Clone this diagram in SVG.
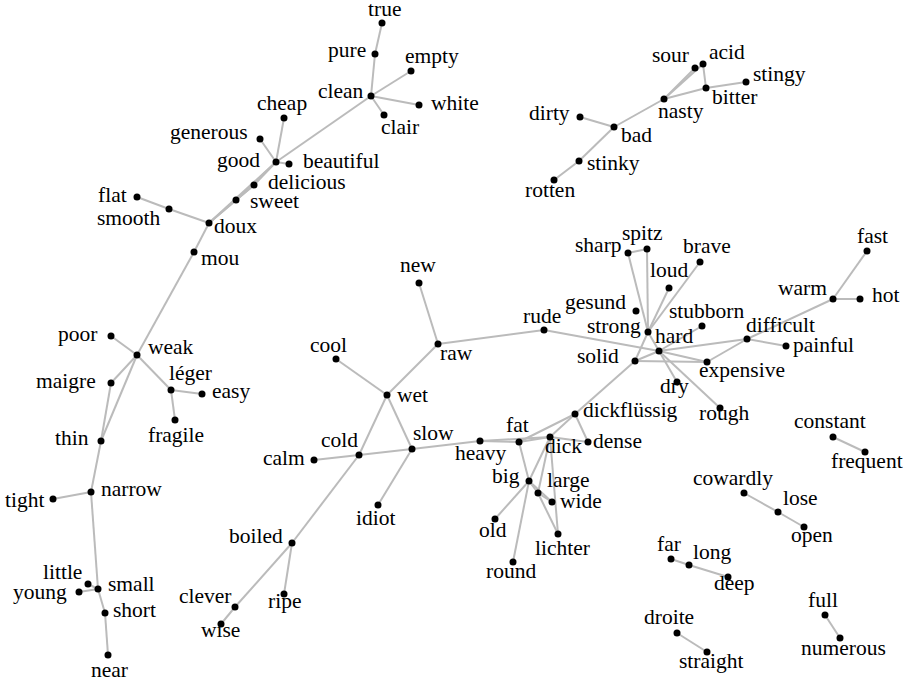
<svg xmlns="http://www.w3.org/2000/svg" width="916" height="688" viewBox="0 0 916 688">
<style>
.e line{stroke:#bbbbbb;stroke-width:2;fill:none}
.n circle{fill:#000}
.n text{font-family:'Liberation Serif','Times New Roman','DejaVu Serif',serif;font-size:21.5px;fill:#000}
</style>
<rect width="916" height="688" fill="#fff"/>
<g class="e" id="edges">
<line x1="382" y1="23" x2="375" y2="54"/>
<line x1="375" y1="54" x2="371" y2="96"/>
<line x1="371" y1="96" x2="411" y2="71"/>
<line x1="371" y1="96" x2="419" y2="105"/>
<line x1="371" y1="96" x2="384" y2="115"/>
<line x1="371" y1="96" x2="276" y2="162"/>
<line x1="276" y1="162" x2="284" y2="118"/>
<line x1="276" y1="162" x2="260" y2="139"/>
<line x1="276" y1="162" x2="289" y2="164"/>
<line x1="276" y1="162" x2="254" y2="185"/>
<line x1="276" y1="162" x2="236" y2="200"/>
<line x1="276" y1="162" x2="209" y2="223"/>
<line x1="254" y1="185" x2="236" y2="200"/>
<line x1="236" y1="200" x2="209" y2="223"/>
<line x1="254" y1="185" x2="209" y2="223"/>
<line x1="137" y1="197" x2="169" y2="209"/>
<line x1="169" y1="209" x2="209" y2="223"/>
<line x1="209" y1="223" x2="194" y2="252"/>
<line x1="194" y1="252" x2="137" y2="355"/>
<line x1="137" y1="355" x2="111" y2="336"/>
<line x1="137" y1="355" x2="111" y2="383"/>
<line x1="137" y1="355" x2="101" y2="441"/>
<line x1="137" y1="355" x2="171" y2="390"/>
<line x1="171" y1="390" x2="202" y2="394"/>
<line x1="171" y1="390" x2="175" y2="420"/>
<line x1="111" y1="383" x2="101" y2="441"/>
<line x1="101" y1="441" x2="91" y2="492"/>
<line x1="91" y1="492" x2="53" y2="499"/>
<line x1="91" y1="492" x2="98" y2="589"/>
<line x1="98" y1="589" x2="79" y2="592"/>
<line x1="98" y1="589" x2="88" y2="584"/>
<line x1="98" y1="589" x2="105" y2="613"/>
<line x1="105" y1="613" x2="108" y2="655"/>
<line x1="419" y1="283" x2="438" y2="344"/>
<line x1="438" y1="344" x2="544" y2="330"/>
<line x1="438" y1="344" x2="387" y2="395"/>
<line x1="336" y1="359" x2="387" y2="395"/>
<line x1="387" y1="395" x2="359" y2="455"/>
<line x1="387" y1="395" x2="412" y2="449"/>
<line x1="359" y1="455" x2="314" y2="460"/>
<line x1="359" y1="455" x2="412" y2="449"/>
<line x1="359" y1="455" x2="292" y2="543"/>
<line x1="412" y1="449" x2="378" y2="505"/>
<line x1="412" y1="449" x2="480" y2="441"/>
<line x1="292" y1="543" x2="284" y2="594"/>
<line x1="292" y1="543" x2="235" y2="607"/>
<line x1="235" y1="607" x2="221" y2="624"/>
<line x1="480" y1="441" x2="519" y2="442"/>
<line x1="480" y1="441" x2="550" y2="437"/>
<line x1="519" y1="442" x2="550" y2="437"/>
<line x1="519" y1="442" x2="575" y2="414"/>
<line x1="550" y1="437" x2="575" y2="414"/>
<line x1="575" y1="414" x2="588" y2="442"/>
<line x1="550" y1="437" x2="588" y2="442"/>
<line x1="519" y1="442" x2="529" y2="481"/>
<line x1="550" y1="437" x2="529" y2="481"/>
<line x1="550" y1="437" x2="558" y2="534"/>
<line x1="550" y1="437" x2="538" y2="493"/>
<line x1="529" y1="481" x2="538" y2="493"/>
<line x1="529" y1="481" x2="552" y2="502"/>
<line x1="538" y1="493" x2="552" y2="502"/>
<line x1="538" y1="493" x2="558" y2="534"/>
<line x1="529" y1="481" x2="495" y2="519"/>
<line x1="529" y1="481" x2="513" y2="562"/>
<line x1="575" y1="414" x2="635" y2="361"/>
<line x1="635" y1="361" x2="659" y2="351"/>
<line x1="635" y1="361" x2="707" y2="362"/>
<line x1="635" y1="361" x2="648" y2="332"/>
<line x1="544" y1="330" x2="659" y2="351"/>
<line x1="648" y1="332" x2="659" y2="351"/>
<line x1="648" y1="332" x2="628" y2="253"/>
<line x1="648" y1="332" x2="647" y2="249"/>
<line x1="628" y1="253" x2="647" y2="249"/>
<line x1="648" y1="332" x2="669" y2="288"/>
<line x1="648" y1="332" x2="700" y2="262"/>
<line x1="659" y1="351" x2="702" y2="326"/>
<line x1="659" y1="351" x2="747" y2="339"/>
<line x1="659" y1="351" x2="707" y2="362"/>
<line x1="659" y1="351" x2="677" y2="382"/>
<line x1="659" y1="351" x2="720" y2="408"/>
<line x1="747" y1="339" x2="707" y2="362"/>
<line x1="747" y1="339" x2="786" y2="346"/>
<line x1="747" y1="339" x2="833" y2="299"/>
<line x1="833" y1="299" x2="860" y2="299"/>
<line x1="833" y1="299" x2="867" y2="251"/>
<line x1="833" y1="437" x2="865" y2="452"/>
<line x1="744" y1="493" x2="778" y2="512"/>
<line x1="778" y1="512" x2="804" y2="527"/>
<line x1="671" y1="559" x2="689" y2="565"/>
<line x1="689" y1="565" x2="728" y2="577"/>
<line x1="825" y1="615" x2="840" y2="638"/>
<line x1="677" y1="633" x2="707" y2="652"/>
<line x1="580" y1="117" x2="614" y2="127"/>
<line x1="614" y1="127" x2="664" y2="99"/>
<line x1="614" y1="127" x2="579" y2="161"/>
<line x1="579" y1="161" x2="554" y2="180"/>
<line x1="664" y1="99" x2="695" y2="68"/>
<line x1="664" y1="99" x2="703" y2="64"/>
<line x1="664" y1="99" x2="706" y2="88"/>
<line x1="703" y1="64" x2="706" y2="88"/>
<line x1="706" y1="88" x2="746" y2="82"/>
</g>
<g id="nodes" font-family="Liberation Serif, Times New Roman, DejaVu Serif, serif" font-size="21.5">
<g class="n" id="n-true"><circle cx="382" cy="23" r="3.5"/><text x="368" y="16">true</text></g>
<g class="n" id="n-pure"><circle cx="375" cy="54" r="3.5"/><text x="328" y="57">pure</text></g>
<g class="n" id="n-empty"><circle cx="411" cy="71" r="3.5"/><text x="405" y="63">empty</text></g>
<g class="n" id="n-clean"><circle cx="371" cy="96" r="3.5"/><text x="318" y="98">clean</text></g>
<g class="n" id="n-white"><circle cx="419" cy="105" r="3.5"/><text x="431" y="110">white</text></g>
<g class="n" id="n-clair"><circle cx="384" cy="115" r="3.5"/><text x="381" y="134">clair</text></g>
<g class="n" id="n-cheap"><circle cx="284" cy="118" r="3.5"/><text x="257" y="110">cheap</text></g>
<g class="n" id="n-generous"><circle cx="260" cy="139" r="3.5"/><text x="170" y="139">generous</text></g>
<g class="n" id="n-good"><circle cx="276" cy="162" r="3.5"/><text x="217" y="167">good</text></g>
<g class="n" id="n-beautiful"><circle cx="289" cy="164" r="3.5"/><text x="303" y="168">beautiful</text></g>
<g class="n" id="n-delicious"><circle cx="254" cy="185" r="3.5"/><text x="268" y="189">delicious</text></g>
<g class="n" id="n-sweet"><circle cx="236" cy="200" r="3.5"/><text x="250" y="208">sweet</text></g>
<g class="n" id="n-flat"><circle cx="137" cy="197" r="3.5"/><text x="98" y="202">flat</text></g>
<g class="n" id="n-smooth"><circle cx="169" cy="209" r="3.5"/><text x="97" y="225">smooth</text></g>
<g class="n" id="n-doux"><circle cx="209" cy="223" r="3.5"/><text x="214" y="233">doux</text></g>
<g class="n" id="n-mou"><circle cx="194" cy="252" r="3.5"/><text x="201" y="265">mou</text></g>
<g class="n" id="n-poor"><circle cx="111" cy="336" r="3.5"/><text x="58" y="341">poor</text></g>
<g class="n" id="n-weak"><circle cx="137" cy="355" r="3.5"/><text x="148" y="354">weak</text></g>
<g class="n" id="n-maigre"><circle cx="111" cy="383" r="3.5"/><text x="36" y="388">maigre</text></g>
<g class="n" id="n-leger"><circle cx="171" cy="390" r="3.5"/><text x="169" y="380">léger</text></g>
<g class="n" id="n-easy"><circle cx="202" cy="394" r="3.5"/><text x="212" y="398">easy</text></g>
<g class="n" id="n-fragile"><circle cx="175" cy="420" r="3.5"/><text x="148" y="442">fragile</text></g>
<g class="n" id="n-thin"><circle cx="101" cy="441" r="3.5"/><text x="55" y="445">thin</text></g>
<g class="n" id="n-narrow"><circle cx="91" cy="492" r="3.5"/><text x="101" y="496">narrow</text></g>
<g class="n" id="n-tight"><circle cx="53" cy="499" r="3.5"/><text x="5" y="507">tight</text></g>
<g class="n" id="n-little"><circle cx="88" cy="584" r="3.5"/><text x="43" y="579">little</text></g>
<g class="n" id="n-young"><circle cx="79" cy="592" r="3.5"/><text x="13" y="599">young</text></g>
<g class="n" id="n-small"><circle cx="98" cy="589" r="3.5"/><text x="108" y="591">small</text></g>
<g class="n" id="n-short"><circle cx="105" cy="613" r="3.5"/><text x="113" y="617">short</text></g>
<g class="n" id="n-near"><circle cx="108" cy="655" r="3.5"/><text x="91" y="677">near</text></g>
<g class="n" id="n-boiled"><circle cx="292" cy="543" r="3.5"/><text x="229" y="543">boiled</text></g>
<g class="n" id="n-clever"><circle cx="235" cy="607" r="3.5"/><text x="179" y="603">clever</text></g>
<g class="n" id="n-ripe"><circle cx="284" cy="594" r="3.5"/><text x="268" y="608">ripe</text></g>
<g class="n" id="n-wise"><circle cx="221" cy="624" r="3.5"/><text x="201" y="637">wise</text></g>
<g class="n" id="n-calm"><circle cx="314" cy="460" r="3.5"/><text x="263" y="465">calm</text></g>
<g class="n" id="n-cold"><circle cx="359" cy="455" r="3.5"/><text x="321" y="447">cold</text></g>
<g class="n" id="n-slow"><circle cx="412" cy="449" r="3.5"/><text x="413" y="440">slow</text></g>
<g class="n" id="n-idiot"><circle cx="378" cy="505" r="3.5"/><text x="356" y="525">idiot</text></g>
<g class="n" id="n-wet"><circle cx="387" cy="395" r="3.5"/><text x="397" y="402">wet</text></g>
<g class="n" id="n-cool"><circle cx="336" cy="359" r="3.5"/><text x="310" y="352">cool</text></g>
<g class="n" id="n-raw"><circle cx="438" cy="344" r="3.5"/><text x="440" y="360">raw</text></g>
<g class="n" id="n-new"><circle cx="419" cy="283" r="3.5"/><text x="400" y="272">new</text></g>
<g class="n" id="n-rude"><circle cx="544" cy="330" r="3.5"/><text x="523" y="323">rude</text></g>
<g class="n" id="n-heavy"><circle cx="480" cy="441" r="3.5"/><text x="455" y="460">heavy</text></g>
<g class="n" id="n-fat"><circle cx="519" cy="442" r="3.5"/><text x="506" y="432">fat</text></g>
<g class="n" id="n-dick"><circle cx="550" cy="437" r="3.5"/><text x="545" y="453">dick</text></g>
<g class="n" id="n-dickfluessig"><circle cx="575" cy="414" r="3.5"/><text x="583" y="417">dickflüssig</text></g>
<g class="n" id="n-dense"><circle cx="588" cy="442" r="3.5"/><text x="593" y="448">dense</text></g>
<g class="n" id="n-big"><circle cx="529" cy="481" r="3.5"/><text x="492" y="483">big</text></g>
<g class="n" id="n-large"><circle cx="538" cy="493" r="3.5"/><text x="547" y="487">large</text></g>
<g class="n" id="n-wide"><circle cx="552" cy="502" r="3.5"/><text x="560" y="508">wide</text></g>
<g class="n" id="n-old"><circle cx="495" cy="519" r="3.5"/><text x="479" y="537">old</text></g>
<g class="n" id="n-lichter"><circle cx="558" cy="534" r="3.5"/><text x="535" y="555">lichter</text></g>
<g class="n" id="n-round"><circle cx="513" cy="562" r="3.5"/><text x="486" y="578">round</text></g>
<g class="n" id="n-solid"><circle cx="635" cy="361" r="3.5"/><text x="577" y="363">solid</text></g>
<g class="n" id="n-hard"><circle cx="659" cy="351" r="3.5"/><text x="655" y="343">hard</text></g>
<g class="n" id="n-strong"><circle cx="648" cy="332" r="3.5"/><text x="587" y="333">strong</text></g>
<g class="n" id="n-gesund"><circle cx="636" cy="311" r="3.5"/><text x="565" y="309">gesund</text></g>
<g class="n" id="n-sharp"><circle cx="628" cy="253" r="3.5"/><text x="575" y="252">sharp</text></g>
<g class="n" id="n-spitz"><circle cx="647" cy="249" r="3.5"/><text x="622" y="240">spitz</text></g>
<g class="n" id="n-loud"><circle cx="669" cy="288" r="3.5"/><text x="650" y="277">loud</text></g>
<g class="n" id="n-brave"><circle cx="700" cy="262" r="3.5"/><text x="683" y="253">brave</text></g>
<g class="n" id="n-stubborn"><circle cx="702" cy="326" r="3.5"/><text x="669" y="318">stubborn</text></g>
<g class="n" id="n-difficult"><circle cx="747" cy="339" r="3.5"/><text x="746" y="332">difficult</text></g>
<g class="n" id="n-painful"><circle cx="786" cy="346" r="3.5"/><text x="793" y="352">painful</text></g>
<g class="n" id="n-expensive"><circle cx="707" cy="362" r="3.5"/><text x="699" y="377">expensive</text></g>
<g class="n" id="n-dry"><circle cx="677" cy="382" r="3.5"/><text x="660" y="393">dry</text></g>
<g class="n" id="n-rough"><circle cx="720" cy="408" r="3.5"/><text x="699" y="420">rough</text></g>
<g class="n" id="n-warm"><circle cx="833" cy="299" r="3.5"/><text x="778" y="295">warm</text></g>
<g class="n" id="n-hot"><circle cx="860" cy="299" r="3.5"/><text x="872" y="302">hot</text></g>
<g class="n" id="n-fast"><circle cx="867" cy="251" r="3.5"/><text x="857" y="243">fast</text></g>
<g class="n" id="n-constant"><circle cx="833" cy="437" r="3.5"/><text x="794" y="428">constant</text></g>
<g class="n" id="n-frequent"><circle cx="865" cy="452" r="3.5"/><text x="831" y="468">frequent</text></g>
<g class="n" id="n-cowardly"><circle cx="744" cy="493" r="3.5"/><text x="693" y="485">cowardly</text></g>
<g class="n" id="n-lose"><circle cx="778" cy="512" r="3.5"/><text x="783" y="505">lose</text></g>
<g class="n" id="n-open"><circle cx="804" cy="527" r="3.5"/><text x="791" y="542">open</text></g>
<g class="n" id="n-far"><circle cx="671" cy="559" r="3.5"/><text x="657" y="551">far</text></g>
<g class="n" id="n-long"><circle cx="689" cy="565" r="3.5"/><text x="693" y="559">long</text></g>
<g class="n" id="n-deep"><circle cx="728" cy="577" r="3.5"/><text x="714" y="590">deep</text></g>
<g class="n" id="n-full"><circle cx="825" cy="615" r="3.5"/><text x="808" y="607">full</text></g>
<g class="n" id="n-numerous"><circle cx="840" cy="638" r="3.5"/><text x="801" y="655">numerous</text></g>
<g class="n" id="n-droite"><circle cx="677" cy="633" r="3.5"/><text x="644" y="624">droite</text></g>
<g class="n" id="n-straight"><circle cx="707" cy="652" r="3.5"/><text x="679" y="668">straight</text></g>
<g class="n" id="n-sour"><circle cx="695" cy="68" r="3.5"/><text x="652" y="62">sour</text></g>
<g class="n" id="n-acid"><circle cx="703" cy="64" r="3.5"/><text x="709" y="59">acid</text></g>
<g class="n" id="n-stingy"><circle cx="746" cy="82" r="3.5"/><text x="753" y="81">stingy</text></g>
<g class="n" id="n-bitter"><circle cx="706" cy="88" r="3.5"/><text x="712" y="104">bitter</text></g>
<g class="n" id="n-nasty"><circle cx="664" cy="99" r="3.5"/><text x="658" y="118">nasty</text></g>
<g class="n" id="n-dirty"><circle cx="580" cy="117" r="3.5"/><text x="529" y="120">dirty</text></g>
<g class="n" id="n-bad"><circle cx="614" cy="127" r="3.5"/><text x="621" y="142">bad</text></g>
<g class="n" id="n-stinky"><circle cx="579" cy="161" r="3.5"/><text x="587" y="170">stinky</text></g>
<g class="n" id="n-rotten"><circle cx="554" cy="180" r="3.5"/><text x="525" y="197">rotten</text></g>
</g>
</svg>
